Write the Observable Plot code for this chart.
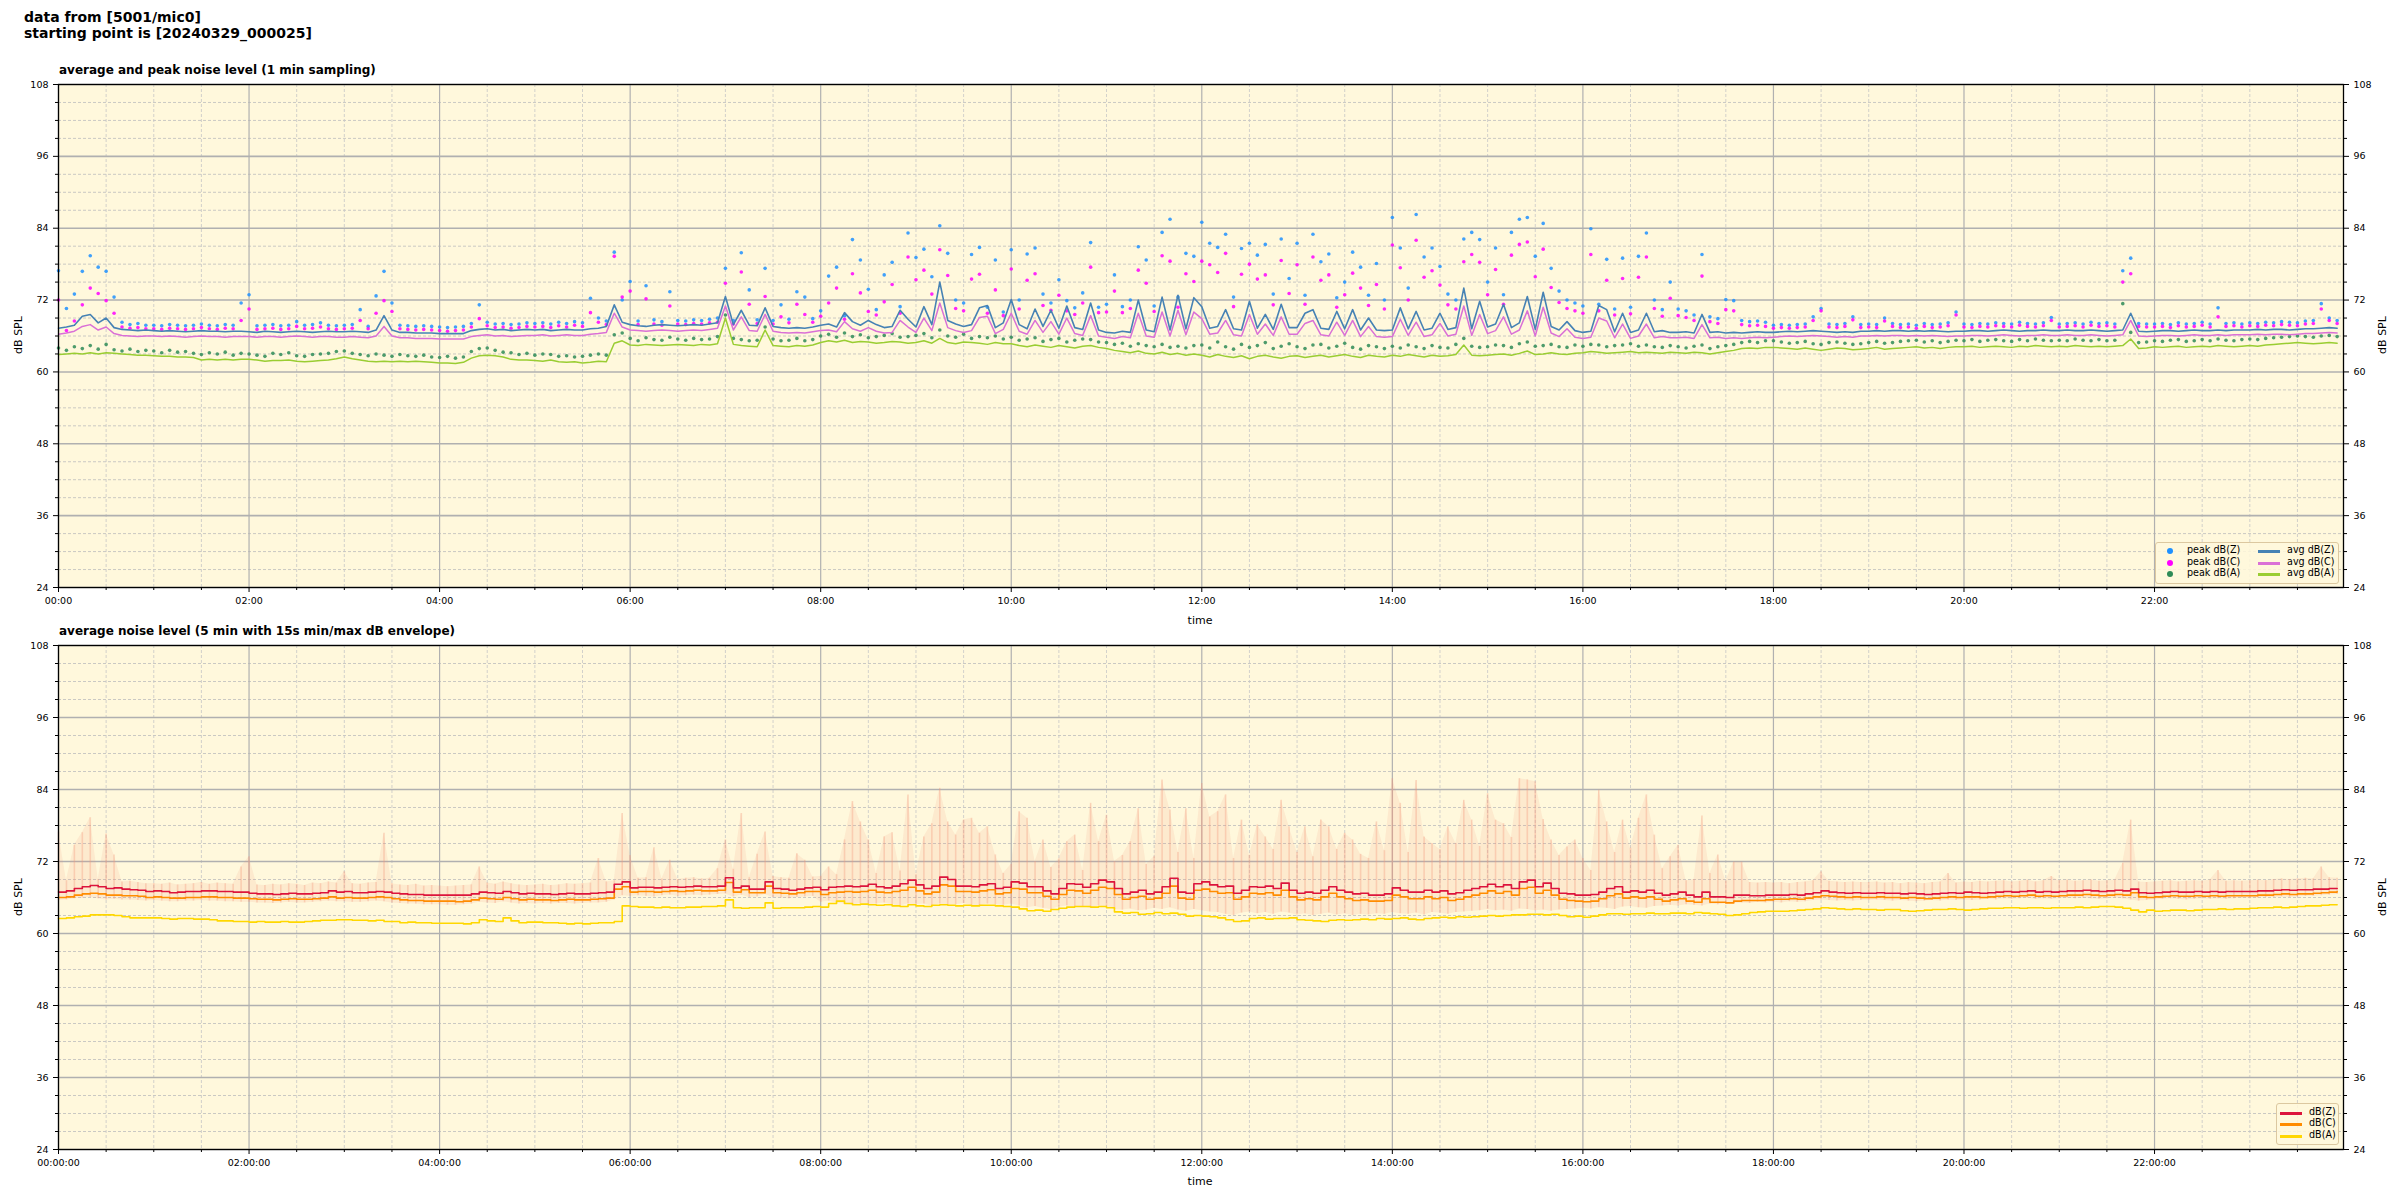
<!DOCTYPE html>
<html><head><meta charset="utf-8">
<script src="https://cdn.jsdelivr.net/npm/d3@7"></script>
<script src="https://cdn.jsdelivr.net/npm/@observablehq/plot@0.6"></script>
<style>
body{margin:0;background:#fff;font-family:"DejaVu Sans",sans-serif;color:#000;}
#root{position:relative;width:2400px;height:1200px;overflow:hidden;background:#fff;}
.abs{position:absolute;white-space:nowrap;}
.sup{left:24px;top:9px;font-size:14px;font-weight:bold;line-height:16px;}
.sub{font-size:12px;font-weight:bold;}
.ylab{font-size:11px;transform:translate(-50%,-50%) rotate(-90deg);}
.xlab{font-size:11px;transform:translate(-50%,-50%);}
.legend{position:absolute;box-sizing:border-box;border:1px solid #dcc8a0;background:rgba(255,248,220,0.85);border-radius:3px;font-size:9.6px;}
.legend span{position:absolute;line-height:12px;white-space:nowrap;}
.legend i{position:absolute;display:block;}
svg{position:absolute;}
</style></head>
<body><div id="root"></div>
<script>
// ---------- top chart: 1 min sampling (read at 5-min steps) ----------
const avgZ = [
67.3,67.5,67.8,69.3,69.6,68.2,69.0,67.4,67.1,67.0,66.9,67.0,
66.9,66.8,66.9,66.8,66.7,66.8,66.9,66.8,66.8,66.7,66.8,66.8,
66.7,66.6,66.8,66.7,66.6,66.7,66.8,66.7,66.6,66.7,66.8,66.7,
66.7,66.8,66.7,66.6,67.0,69.4,67.0,66.6,66.6,66.5,66.5,66.5,
66.4,66.4,66.4,66.4,66.9,67.1,67.2,67.0,67.1,66.9,67.0,67.1,
67.0,67.1,66.9,67.0,67.1,67.0,67.0,67.2,67.3,67.6,71.2,68.3,
67.9,67.7,67.6,67.8,67.9,67.8,67.7,67.8,67.9,67.8,68.0,68.2,
72.6,67.9,70.3,67.8,67.7,70.7,67.6,67.4,67.3,67.4,67.3,67.5,
67.8,68.0,67.5,69.9,68.4,67.8,68.6,67.9,67.4,67.6,70.3,68.8,
67.5,70.9,67.9,75.0,68.6,68.0,67.6,67.9,70.7,71.1,67.4,68.2,
72.1,67.9,67.2,70.5,67.6,70.3,67.3,71.0,67.4,67.1,71.5,67.0,
66.6,66.5,66.8,66.6,72.0,67.0,66.7,72.5,67.0,72.8,67.2,72.4,
70.9,67.3,67.6,70.4,67.2,67.0,71.8,67.3,69.6,67.1,71.3,67.4,
67.4,69.8,70.4,67.3,67.1,70.1,67.2,70.4,67.0,69.0,67.0,66.9,
67.0,70.7,67.2,70.1,67.0,67.3,69.8,67.1,67.4,74.0,67.2,71.8,
67.5,68.0,71.3,67.4,68.2,72.6,67.1,73.3,67.6,67.0,68.4,66.9,
66.6,66.8,71.1,70.4,66.7,69.8,66.6,67.0,69.8,66.7,66.9,66.6,
66.6,66.7,66.5,69.6,66.6,66.7,66.5,66.6,66.5,66.6,66.7,66.6,
66.6,66.7,66.8,66.7,66.8,66.9,66.8,66.7,66.6,66.7,66.6,66.8,
66.8,66.9,66.8,66.9,66.9,66.8,66.9,66.8,66.9,66.8,66.7,66.8,
66.8,66.9,66.9,66.8,66.9,67.0,66.9,66.8,66.9,66.9,67.0,66.9,
66.9,67.0,66.9,66.9,67.0,66.9,66.8,66.9,67.0,69.8,66.8,66.7,
66.8,66.9,66.9,66.8,66.9,67.0,66.9,66.9,67.0,66.9,67.0,67.0,
67.0,67.1,67.0,67.1,67.1,67.0,67.1,67.2,67.2,67.3,67.4,67.3];
const avgC = [
66.3,66.5,66.8,67.6,67.9,67.0,67.5,66.4,66.1,66.0,65.9,66.0,
66.0,65.9,66.0,65.9,65.8,65.9,66.0,65.9,65.9,65.8,65.9,65.9,
65.9,65.8,65.9,65.9,65.8,65.9,66.0,65.9,65.8,65.9,65.9,65.8,
65.8,65.9,65.8,65.7,66.0,67.6,66.0,65.7,65.7,65.6,65.6,65.6,
65.5,65.5,65.5,65.5,65.9,66.1,66.2,66.0,66.1,65.9,66.0,66.1,
66.1,66.2,66.0,66.1,66.2,66.1,66.1,66.3,66.4,66.6,69.8,67.5,
67.0,66.9,66.8,66.9,67.0,66.9,66.8,66.9,67.0,66.9,67.1,67.3,
71.0,67.0,69.2,66.9,66.8,69.6,66.8,66.6,66.5,66.6,66.5,66.7,
66.9,67.0,66.7,68.4,67.2,66.8,67.4,66.8,66.5,66.6,68.6,67.5,
66.6,69.0,66.9,71.5,67.4,66.9,66.6,66.9,69.1,69.3,66.4,67.1,
69.8,66.8,66.3,68.6,66.6,68.4,66.3,69.0,66.4,66.1,69.4,66.0,
65.8,65.6,65.9,65.7,69.8,66.0,65.8,70.0,66.0,70.3,66.2,70.0,
68.9,66.3,66.5,68.6,66.2,66.0,69.6,66.3,68.0,66.1,69.2,66.3,
66.3,68.1,68.6,66.2,66.0,68.3,66.1,68.6,65.9,67.6,65.9,65.8,
65.9,68.8,66.1,68.3,65.9,66.2,68.1,66.0,66.3,71.0,66.1,69.6,
66.4,66.9,69.2,66.3,67.0,70.2,66.0,70.8,66.5,65.9,67.2,65.8,
65.6,65.8,69.0,68.5,65.7,68.0,65.6,66.0,68.0,65.7,65.9,65.7,
65.7,65.8,65.6,67.9,65.7,65.8,65.6,65.7,65.6,65.7,65.8,65.7,
65.8,65.9,66.0,65.9,66.0,66.1,66.0,65.9,65.8,65.9,65.8,66.0,
66.0,66.1,66.0,66.1,66.1,66.0,66.1,66.0,66.1,66.0,65.9,66.0,
66.0,66.1,66.1,66.0,66.1,66.2,66.1,66.0,66.1,66.1,66.2,66.1,
66.1,66.2,66.1,66.1,66.2,66.1,66.0,66.1,66.2,68.6,66.0,65.9,
66.0,66.1,66.1,66.0,66.1,66.2,66.1,66.1,66.2,66.1,66.2,66.2,
66.2,66.3,66.2,66.3,66.3,66.2,66.3,66.4,66.4,66.5,66.6,66.5];
const avgA = [
62.9,63.0,63.1,63.0,63.2,63.0,63.2,63.1,63.0,62.9,62.8,62.8,
62.7,62.6,62.6,62.5,62.5,62.4,62.0,62.1,62.0,62.1,62.0,62.1,
62.1,62.0,61.8,61.9,61.9,62.0,61.8,61.7,61.8,61.9,62.0,62.2,
62.5,62.2,62.0,61.8,61.7,61.8,61.7,61.8,61.7,61.8,61.7,61.6,
61.5,61.5,61.4,61.6,62.3,62.7,62.8,62.7,62.5,62.1,62.0,62.0,
61.9,61.8,62.0,61.7,61.6,61.7,61.5,61.6,61.8,61.7,64.8,65.2,
64.5,64.4,64.6,64.5,64.4,64.5,64.6,64.5,64.4,64.6,64.5,64.7,
69.0,64.6,64.4,64.3,64.2,67.0,64.4,64.3,64.2,64.4,64.3,64.5,
64.9,65.2,65.0,65.3,64.9,65.1,65.0,64.8,64.9,65.1,65.0,64.8,
64.9,65.2,64.8,65.6,64.9,64.7,65.0,64.9,64.8,64.6,64.9,64.7,
64.7,64.4,64.2,64.5,64.3,64.1,64.4,64.2,64.0,64.3,64.4,64.1,
63.9,63.6,63.4,63.2,63.5,63.1,63.0,63.3,62.9,63.1,62.8,63.0,
62.8,62.5,62.9,62.6,62.4,62.7,62.2,62.6,62.8,62.5,62.3,62.6,
62.7,62.4,62.6,62.8,62.5,62.7,62.9,62.6,62.4,62.8,62.6,62.5,
62.8,62.6,62.9,62.7,62.5,62.8,62.6,62.7,62.9,64.5,62.8,62.7,
62.8,62.9,63.0,62.8,63.1,63.5,62.9,63.0,63.2,63.0,62.9,63.1,
63.2,63.4,63.3,63.1,63.2,63.3,63.4,63.2,63.3,63.2,63.1,63.3,
63.2,63.1,63.3,63.2,63.0,63.2,63.4,63.6,63.9,64.0,63.9,64.1,
64.1,64.0,63.9,63.8,64.0,63.8,63.6,63.8,64.0,63.9,63.7,63.8,
63.9,64.1,63.8,63.9,64.0,64.1,64.2,64.0,64.1,63.9,64.1,64.2,
64.2,64.3,64.1,64.2,64.3,64.2,64.1,64.3,64.2,64.4,64.3,64.2,
64.3,64.2,64.4,64.3,64.2,64.3,64.2,64.3,64.4,65.5,63.9,64.0,
64.2,64.1,64.2,64.3,64.1,64.2,64.3,64.2,64.4,64.3,64.2,64.3,
64.4,64.3,64.5,64.6,64.7,64.8,64.9,64.8,64.7,64.8,64.9,64.8];
const peakZ = [
76.9,70.6,73.0,76.8,79.4,77.5,76.8,72.5,68.3,67.9,68.1,67.8,
67.8,67.7,67.9,67.8,67.7,67.8,68.0,67.8,67.7,67.9,67.8,71.5,
72.9,67.7,67.8,67.9,67.7,67.8,68.4,67.8,67.9,68.2,67.8,67.7,
67.8,67.9,70.4,67.6,72.7,76.8,71.5,67.8,67.7,67.6,67.7,67.6,
67.5,67.4,67.5,67.6,68.1,71.2,68.3,68.0,68.1,67.9,68.0,68.2,
68.1,68.2,68.0,68.3,68.1,68.4,68.2,72.3,69.0,68.5,80.0,72.0,
75.1,68.5,74.4,68.7,68.4,73.4,68.6,68.5,68.7,68.6,68.8,69.0,
77.3,68.6,79.9,73.7,68.7,77.3,68.6,71.2,68.8,73.4,72.5,68.9,
70.2,76.0,77.5,69.4,82.1,78.7,73.8,70.4,76.2,78.3,70.9,83.2,
79.1,80.5,75.9,84.4,79.8,72.0,71.5,79.6,80.8,70.8,78.7,70.0,
80.4,72.0,79.7,80.7,73.0,71.5,75.4,71.9,70.7,73.2,81.6,70.8,
71.3,76.2,70.9,72.0,80.9,78.7,71.0,83.3,85.5,72.5,79.8,79.3,
85.0,81.5,80.8,83.0,72.5,80.6,81.5,79.5,81.3,73.0,82.2,75.6,
81.5,72.8,83.0,78.4,79.7,72.4,75.0,80.0,77.5,72.8,78.1,72.0,
85.8,80.7,74.0,86.3,79.2,80.7,77.6,73.0,72.0,82.2,83.3,82.1,
75.0,80.7,72.9,83.3,85.5,85.8,79.3,84.8,77.3,73.5,72.0,71.5,
71.0,83.9,71.3,78.8,70.5,79.0,70.8,79.3,83.2,72.0,70.4,75.0,
70.5,70.2,69.5,79.6,69.2,68.9,72.1,71.9,68.6,68.4,68.5,68.3,
67.8,67.9,67.8,67.9,68.0,69.2,70.6,68.0,67.9,68.1,69.2,67.9,
68.0,67.9,69.0,68.1,67.9,68.0,67.8,68.1,67.9,68.0,68.2,70.0,
68.0,67.9,68.1,68.0,68.2,68.1,68.0,68.3,68.1,68.0,68.2,69.1,
68.0,68.1,68.2,68.0,68.3,68.1,68.2,68.0,76.9,79.0,68.1,68.0,
68.0,68.1,67.9,68.2,68.0,68.1,68.3,68.0,70.7,68.1,68.2,68.0,
68.2,68.1,68.3,68.2,68.4,68.3,68.2,68.5,68.6,71.4,69.0,68.6];
const peakC = [
72.0,66.9,68.5,71.2,74.0,73.1,71.9,69.8,67.5,67.3,67.4,67.2,
67.2,67.1,67.3,67.2,67.1,67.2,67.4,67.2,67.1,67.3,67.2,68.6,
70.5,67.1,67.2,67.3,67.1,67.2,67.6,67.2,67.3,67.5,67.2,67.1,
67.2,67.3,68.6,67.2,69.8,71.9,70.1,67.2,67.1,67.0,67.1,67.0,
66.9,66.8,66.9,67.0,67.5,68.9,67.7,67.4,67.5,67.3,67.4,67.6,
67.5,67.6,67.4,67.7,67.5,67.8,67.6,69.9,68.3,67.9,79.3,72.5,
73.5,67.9,72.2,68.0,67.8,71.0,68.0,67.9,68.1,68.0,68.2,68.3,
74.8,68.0,76.7,71.3,68.1,72.6,68.0,69.2,68.2,71.3,69.6,68.3,
69.3,71.5,74.0,68.8,76.4,73.2,70.1,69.5,71.7,74.6,69.8,79.2,
75.4,77.0,73.0,80.4,76.1,70.6,70.2,75.5,76.3,69.8,73.7,69.4,
77.2,70.5,75.3,76.4,71.1,70.3,72.8,70.2,69.6,71.5,77.5,69.9,
70.0,73.5,69.9,70.6,77.0,74.8,70.1,79.4,78.5,70.8,76.4,75.1,
78.5,77.9,76.6,79.8,70.9,76.3,78.0,75.5,76.2,71.2,78.6,73.1,
77.9,71.3,79.2,75.3,76.2,70.8,72.9,76.5,74.0,71.1,74.6,70.5,
81.2,77.4,72.0,82.0,75.8,76.9,74.5,71.2,70.5,78.4,79.6,78.3,
72.9,77.1,71.3,79.5,81.3,81.7,75.9,80.5,74.1,71.6,70.6,70.2,
69.8,79.6,70.2,75.3,69.5,75.6,69.7,75.8,79.2,70.6,69.3,72.3,
69.4,69.1,68.6,76.0,68.4,68.1,70.4,70.2,67.9,67.7,67.8,67.6,
67.3,67.4,67.3,67.4,67.5,68.6,70.2,67.5,67.4,67.6,68.7,67.4,
67.5,67.4,68.5,67.6,67.4,67.5,67.3,67.6,67.4,67.5,67.7,69.5,
67.5,67.4,67.6,67.5,67.7,67.6,67.5,67.8,67.6,67.5,67.7,68.6,
67.5,67.6,67.7,67.5,67.8,67.6,67.7,67.5,75.0,76.4,67.6,67.5,
67.5,67.6,67.4,67.7,67.5,67.6,67.8,67.5,69.2,67.6,67.7,67.5,
67.7,67.6,67.8,67.7,67.9,67.8,67.7,68.0,68.1,70.5,68.6,68.1];
const peakA = [
64.0,63.6,64.2,63.9,64.4,63.8,64.6,63.7,63.5,63.8,63.4,63.6,
63.5,63.2,63.6,63.3,63.4,63.1,62.9,63.2,63.0,63.3,62.8,63.1,
63.0,62.8,62.6,63.1,62.9,63.2,62.7,62.6,62.9,63.0,63.1,63.4,
63.5,63.1,62.9,62.7,63.0,62.8,62.6,62.9,62.7,62.6,62.8,62.5,
62.4,62.6,62.3,62.5,63.4,63.9,64.0,63.6,63.3,63.2,62.9,63.1,
62.8,63.0,62.9,62.6,62.7,62.5,62.6,62.8,63.0,62.8,66.2,66.5,
65.6,65.2,65.7,65.4,65.3,65.8,65.5,65.3,65.6,65.4,65.5,65.9,
69.5,65.6,65.4,65.2,65.3,67.5,65.5,65.2,65.3,65.6,65.2,65.4,
66.0,66.3,65.8,66.5,65.9,66.2,65.7,65.9,66.1,66.4,65.8,65.9,
66.1,66.4,65.7,67.0,66.0,65.8,66.3,65.6,65.9,65.7,66.0,65.5,
65.8,65.3,65.5,65.7,65.1,65.4,65.6,65.0,65.3,65.5,65.4,65.0,
64.9,64.6,64.8,64.3,64.7,64.4,64.2,64.6,64.1,64.3,64.0,64.4,
64.5,64.0,65.0,64.2,63.8,64.6,64.1,64.4,64.9,63.9,64.3,64.7,
64.2,63.9,64.5,64.6,64.0,64.3,64.8,64.1,63.8,64.4,64.2,63.9,
64.3,64.0,64.5,64.2,63.9,64.4,64.1,64.0,64.6,65.6,64.3,64.1,
64.2,64.5,64.4,64.1,64.7,65.0,64.3,64.4,64.6,64.2,64.1,64.5,
64.3,64.6,64.5,64.2,64.4,64.5,64.7,64.3,64.5,64.2,64.1,64.4,
64.2,64.0,64.3,64.5,63.9,64.2,64.4,64.6,64.9,65.1,64.9,65.2,
65.2,65.0,64.8,64.9,65.1,64.7,64.6,64.9,65.0,64.8,64.6,64.7,
64.9,65.1,64.8,64.9,65.1,65.2,65.3,65.0,65.2,64.9,65.1,65.3,
65.2,65.4,65.1,65.3,65.4,65.2,65.1,65.4,65.2,65.5,65.3,65.2,
65.3,65.2,65.5,65.3,65.2,65.4,65.2,65.3,71.4,66.6,64.9,65.0,
65.2,65.1,65.3,65.4,65.1,65.2,65.4,65.2,65.5,65.3,65.2,65.4,
65.5,65.4,65.6,65.7,65.8,65.9,66.0,65.9,65.8,66.0,66.1,65.9];

// ---------- bottom chart: 5 min averages and 15 s min/max envelope ----------
const dbZ = [
66.9,67.1,67.5,67.8,68.0,67.8,67.5,67.6,67.4,67.3,67.2,67.0,
67.1,67.0,66.8,66.9,67.0,67.0,67.1,67.1,67.0,67.0,66.9,66.9,
66.7,66.6,66.6,66.5,66.6,66.7,66.6,66.6,66.7,66.8,67.1,66.9,
67.0,66.8,66.8,66.9,67.0,66.9,66.7,66.6,66.5,66.5,66.4,66.4,
66.4,66.4,66.4,66.4,66.6,66.9,66.8,66.7,67.0,66.8,66.6,66.7,
66.6,66.6,66.5,66.6,66.7,66.6,66.6,66.7,66.8,66.9,68.2,68.6,
67.6,67.7,67.7,67.6,67.7,67.8,67.7,67.8,67.9,67.8,67.8,67.9,
69.3,67.6,67.9,67.4,67.4,68.6,67.5,67.4,67.2,67.4,67.6,67.7,
67.3,67.7,67.8,67.9,67.8,67.9,68.2,67.8,67.6,67.9,68.3,68.9,
68.1,67.5,67.9,69.4,69.0,67.9,67.9,67.8,68.1,68.3,67.5,67.7,
68.6,68.4,67.8,67.8,67.1,66.6,67.5,68.3,68.2,67.7,68.3,68.9,
68.6,67.5,66.6,66.9,67.2,66.6,66.9,67.8,69.2,66.9,66.7,68.3,
68.6,68.1,67.8,67.9,66.7,67.2,67.8,67.7,67.9,67.5,68.4,67.2,
66.7,66.9,66.7,67.2,67.8,67.2,66.9,66.6,66.7,66.4,66.4,66.6,
67.6,67.2,66.9,66.9,67.2,66.9,67.1,66.6,66.8,67.2,67.5,67.8,
68.2,67.8,68.1,67.5,68.6,68.9,67.8,68.4,67.5,66.7,66.6,66.4,
66.4,66.5,66.9,67.5,67.8,66.9,67.1,66.9,67.2,66.7,66.4,66.6,
66.9,66.4,66.1,66.9,66.1,66.1,66.0,66.4,66.4,66.3,66.3,66.4,
66.4,66.4,66.5,66.4,66.6,66.8,67.1,66.9,66.8,66.7,66.8,66.7,
66.7,66.8,66.7,66.7,66.6,66.7,66.6,66.5,66.6,66.7,66.8,66.7,
66.9,66.8,66.7,66.8,66.9,67.0,66.9,67.0,67.1,66.9,67.0,66.9,
67.0,67.1,67.1,67.2,67.1,67.0,67.1,67.2,67.1,67.4,66.8,66.7,
66.8,66.9,67.0,66.9,66.9,67.0,66.9,67.0,66.9,67.0,67.0,67.0,
67.0,67.1,67.1,67.2,67.3,67.2,67.3,67.3,67.4,67.4,67.5,67.5];
const dbC = [
66.0,66.1,66.4,66.6,66.7,66.6,66.4,66.4,66.3,66.3,66.2,66.0,
66.1,66.0,65.9,65.9,66.0,66.0,66.1,66.1,66.0,66.0,65.9,65.9,
65.8,65.7,65.7,65.6,65.7,65.8,65.7,65.7,65.8,65.9,66.1,65.9,
66.0,65.9,65.9,66.0,66.1,66.0,65.8,65.6,65.5,65.5,65.4,65.4,
65.4,65.4,65.3,65.4,65.6,65.9,65.8,65.7,66.0,65.8,65.6,65.7,
65.6,65.6,65.5,65.6,65.7,65.6,65.6,65.7,65.8,65.9,67.4,67.8,
66.9,67.0,67.0,66.9,67.0,67.1,67.0,67.1,67.2,67.1,67.1,67.2,
68.5,66.9,67.3,66.8,66.8,67.9,66.8,66.7,66.6,66.8,67.0,67.0,
66.5,66.8,66.9,67.0,66.9,67.0,67.2,66.9,66.8,67.0,67.2,67.7,
67.1,66.6,66.9,68.1,67.9,67.0,67.0,66.9,67.1,67.3,66.6,66.8,
67.5,67.4,66.8,66.8,66.2,65.7,66.5,67.2,67.1,66.7,67.2,67.7,
67.5,66.5,65.7,66.0,66.2,65.7,65.9,66.7,67.9,65.9,65.7,67.2,
67.4,67.0,66.7,66.8,65.7,66.1,66.7,66.6,66.8,66.4,67.2,66.1,
65.6,65.8,65.6,66.1,66.7,66.1,65.8,65.5,65.6,65.4,65.4,65.5,
66.4,66.1,65.8,65.8,66.1,65.8,66.0,65.5,65.7,66.1,66.4,66.7,
67.1,66.7,67.0,66.4,67.5,67.7,66.7,67.2,66.4,65.7,65.5,65.4,
65.3,65.4,65.8,66.3,66.6,65.9,66.1,65.9,66.1,65.7,65.4,65.6,
65.8,65.4,65.2,65.8,65.2,65.2,65.1,65.4,65.5,65.5,65.5,65.6,
65.7,65.7,65.8,65.7,65.9,66.1,66.3,66.2,66.1,66.0,66.1,66.0,
66.0,66.1,66.0,66.0,65.9,66.0,65.9,65.8,65.9,66.0,66.1,66.0,
66.1,66.1,66.0,66.1,66.2,66.3,66.2,66.3,66.4,66.2,66.3,66.2,
66.3,66.4,66.4,66.5,66.4,66.3,66.4,66.5,66.4,66.8,66.1,66.0,
66.1,66.2,66.3,66.2,66.2,66.3,66.2,66.3,66.2,66.3,66.3,66.3,
66.3,66.4,66.4,66.5,66.6,66.5,66.6,66.6,66.7,66.8,66.9,67.0];
const dbA = [
62.5,62.6,62.8,62.9,63.1,63.1,63.1,63.0,62.8,62.6,62.6,62.6,
62.6,62.5,62.4,62.5,62.5,62.4,62.4,62.3,62.1,62.1,62.0,62.0,
61.9,62.0,61.9,61.9,62.0,61.9,61.9,62.0,62.1,62.2,62.2,62.3,
62.3,62.2,62.2,62.1,62.2,62.0,62.0,61.8,61.9,61.8,61.8,61.7,
61.7,61.7,61.7,61.6,61.8,62.3,62.1,62.0,62.6,62.1,61.8,61.9,
61.9,61.8,61.8,61.7,61.6,61.7,61.6,61.7,61.8,61.8,62.0,64.6,
64.5,64.4,64.4,64.3,64.4,64.3,64.3,64.4,64.4,64.5,64.5,64.6,
65.6,64.3,64.2,64.3,64.3,65.1,64.2,64.3,64.3,64.3,64.4,64.5,
64.4,65.0,65.4,65.0,64.8,64.9,64.8,64.7,64.8,64.6,64.5,64.8,
64.6,64.5,64.7,64.8,64.7,64.6,64.7,64.6,64.7,64.7,64.6,64.5,
64.4,64.1,63.8,63.9,63.7,64.0,64.2,64.4,64.5,64.5,64.4,64.5,
64.3,63.6,63.4,63.5,63.2,63.3,63.5,63.3,63.4,63.2,62.9,63.0,
62.9,62.8,62.6,62.3,62.0,62.1,62.5,62.6,62.4,62.5,62.5,62.6,
62.3,62.2,62.1,62.0,62.2,62.3,62.2,62.3,62.4,62.3,62.5,62.4,
62.5,62.6,62.4,62.3,62.5,62.6,62.7,62.6,62.8,62.7,62.8,62.9,
63.0,62.9,63.0,63.1,63.1,63.2,63.2,63.1,63.2,63.0,62.8,62.9,
62.7,62.9,63.1,63.3,63.3,63.2,63.3,63.3,63.4,63.3,63.3,63.4,
63.4,63.3,63.5,63.4,63.3,63.2,63.0,63.1,63.3,63.5,63.6,63.7,
63.7,63.7,63.8,63.9,64.0,64.1,64.3,64.2,64.1,64.0,64.1,64.0,
64.0,63.9,64.0,64.0,63.8,63.7,63.8,63.9,64.0,64.0,64.1,64.0,
63.9,64.0,64.1,64.2,64.2,64.3,64.3,64.2,64.3,64.3,64.2,64.3,
64.3,64.3,64.4,64.3,64.4,64.5,64.5,64.4,64.2,63.9,63.6,63.9,
63.7,63.8,63.9,63.9,63.8,63.9,64.0,64.0,64.1,64.0,64.1,64.1,
64.2,64.3,64.3,64.4,64.3,64.4,64.5,64.6,64.6,64.7,64.8,64.8];
const envMax = [
76.9,68.8,74.7,76.8,79.3,69.0,76.6,73.1,68.6,68.7,68.5,68.3,
68.3,68.2,68.4,68.1,68.2,68.3,68.5,68.2,68.4,68.3,68.2,71.1,
72.8,68.1,68.0,68.2,68.1,68.3,68.2,68.0,68.4,68.3,68.6,68.4,
70.3,68.3,68.2,68.4,68.5,76.7,68.3,68.1,68.0,68.2,67.9,68.0,
67.9,67.8,67.9,68.0,68.1,71.1,68.4,68.2,68.6,68.3,68.1,68.0,
68.1,68.2,68.0,68.1,68.3,68.2,68.3,68.4,72.5,68.6,68.8,80.0,
73.0,69.2,69.3,74.3,69.1,72.2,69.0,69.2,69.3,69.1,69.2,70.8,
75.6,70.7,80.0,69.3,73.2,76.9,69.5,69.3,69.2,73.3,72.2,69.4,
69.5,71.1,69.8,75.6,82.0,78.6,75.6,70.0,76.1,76.8,70.4,83.1,
69.8,76.1,78.3,84.2,78.6,76.4,78.9,79.2,76.7,77.8,73.1,70.0,
71.5,80.3,79.2,72.0,75.6,71.0,72.4,75.3,76.4,70.5,81.7,75.3,
79.7,72.0,73.0,75.3,80.8,71.5,72.8,85.6,80.6,73.5,80.8,72.5,
85.0,79.4,80.3,83.1,72.5,78.9,73.0,78.1,76.1,74.0,82.2,77.8,
73.5,77.8,72.8,78.9,77.8,74.0,76.7,75.6,73.2,72.5,78.6,73.8,
85.8,81.7,73.5,85.5,76.1,75.0,74.0,77.8,75.0,82.2,78.9,74.5,
83.3,78.9,78.3,76.0,85.8,85.6,85.3,79.0,75.6,73.0,74.4,75.6,
72.5,70.5,83.9,78.6,73.5,78.9,74.2,79.2,83.1,76.4,70.8,72.8,
74.7,68.8,69.0,79.6,70.0,73.1,68.7,71.9,71.9,68.5,68.4,68.5,
68.4,68.5,68.3,68.5,68.6,68.8,70.3,68.7,68.6,68.5,68.6,68.5,
68.5,68.6,68.4,68.5,68.3,68.5,68.4,68.3,68.5,68.6,70.0,68.4,
68.6,68.5,68.7,68.6,68.7,68.8,68.6,68.7,68.9,68.6,68.8,69.5,
68.8,68.9,68.7,68.8,68.9,68.7,68.8,68.9,71.7,78.9,68.6,68.5,
68.6,68.7,68.8,68.6,68.7,68.8,68.7,68.9,70.5,68.7,68.8,68.7,
68.8,68.9,68.8,69.0,69.1,69.0,69.1,69.2,69.1,71.1,69.3,69.2];
const envMin = [
65.5,65.6,65.8,65.9,66.0,65.8,65.6,65.7,65.6,65.6,65.5,65.4,
65.5,65.4,65.3,65.3,65.4,65.4,65.5,65.4,65.4,65.3,65.3,65.2,
65.2,65.1,65.1,65.0,65.1,65.2,65.1,65.1,65.2,65.3,65.4,65.3,
65.3,65.2,65.2,65.3,65.4,65.3,65.1,65.0,64.9,64.9,64.8,64.8,
64.8,64.7,64.7,64.8,64.9,65.2,65.1,65.0,65.3,65.1,64.9,65.0,
64.9,65.0,64.9,65.0,65.0,64.9,65.0,65.1,65.1,65.2,65.6,66.3,
66.2,66.3,66.2,66.1,66.3,66.4,66.2,66.3,66.4,66.3,66.4,66.5,
66.6,66.1,66.4,66.0,66.1,66.5,66.0,65.9,65.8,66.0,66.1,66.2,
65.2,65.4,65.1,64.9,64.7,65.0,64.8,64.9,65.1,64.8,64.6,64.9,
64.8,64.9,64.6,64.9,64.7,64.8,65.0,64.7,64.6,64.9,64.8,64.7,
64.9,64.6,64.3,64.5,64.2,64.0,64.4,64.6,64.3,64.5,64.2,64.6,
64.5,64.0,63.9,64.1,63.8,63.9,64.2,64.0,64.3,63.9,63.7,64.0,
63.8,63.6,63.5,63.2,63.0,63.4,63.6,63.3,63.5,63.2,63.6,63.4,
63.1,63.3,63.0,63.2,63.4,63.1,63.3,63.0,63.2,63.1,63.3,63.2,
63.5,63.3,63.2,63.4,63.1,63.5,63.4,63.2,63.5,63.6,63.7,63.8,
64.0,63.8,63.9,63.7,64.1,64.0,63.8,63.9,63.7,63.9,64.0,64.1,
64.2,64.1,64.3,64.2,64.0,64.4,64.5,64.3,64.2,64.5,64.6,64.7,
64.6,64.8,64.7,64.6,64.9,64.8,64.9,65.0,65.1,65.0,65.2,65.1,
65.2,65.1,65.3,65.2,65.3,65.5,65.6,65.5,65.4,65.5,65.4,65.5,
65.5,65.6,65.5,65.4,65.5,65.4,65.3,65.4,65.5,65.4,65.6,65.5,
65.6,65.5,65.6,65.7,65.6,65.8,65.7,65.8,65.9,65.7,65.8,65.7,
65.8,65.9,65.8,65.9,65.8,65.7,65.8,65.9,65.8,65.6,65.4,65.5,
65.6,65.7,65.8,65.7,65.6,65.7,65.8,65.7,65.8,65.7,65.8,65.9,
65.8,65.9,66.0,66.0,66.1,66.0,66.1,66.2,66.2,66.3,66.4,66.5];

// ---------- axes ----------
const yMajor = [24, 36, 48, 60, 72, 84, 96, 108];
const yMinor = [27,30,33,39,42,45,51,54,57,63,66,69,75,78,81,87,90,93,99,102,105];
const xMajor = [0,120,240,360,480,600,720,840,960,1080,1200,1320];
const xMinor = [30,60,90,150,180,210,270,300,330,390,420,450,510,540,570,630,660,690,750,780,810,870,900,930,990,1020,1050,1110,1140,1170,1230,1260,1290,1350,1380,1410];
const xLabelsTop = ["00:00","02:00","04:00","06:00","08:00","10:00","12:00","14:00","16:00","18:00","20:00","22:00"];
const xLabelsBottom = ["00:00:00","02:00:00","04:00:00","06:00:00","08:00:00","10:00:00","12:00:00","14:00:00","16:00:00","18:00:00","20:00:00","22:00:00"];

const STEP = 5; // minutes between stored readings
const topRows = avgZ.map((v, i) => ({t: i*STEP, az: v, ac: avgC[i], aa: avgA[i], pz: peakZ[i], pc: peakC[i], pa: peakA[i]}));
const botRows = dbZ.map((v, i) => ({t: i*STEP, z: v, c: dbC[i], a: dbA[i], hi: envMax[i], lo: envMin[i]}));

function background(){
  return [
    Plot.frame({fill: "#fff8dc", stroke: null}),
    Plot.gridY(yMinor, {stroke: "#bdbdbd", strokeOpacity: 1, strokeWidth: 0.8, strokeDasharray: "3,2"}),
    Plot.gridX(xMinor, {stroke: "#c6c6c6", strokeOpacity: 1, strokeWidth: 0.8, strokeDasharray: "3,2"}),
    Plot.gridY(yMajor, {stroke: "#b0b0b0", strokeOpacity: 1, strokeWidth: 1.6}),
    Plot.gridX(xMajor, {stroke: "#b0b0b0", strokeOpacity: 1, strokeWidth: 1.2})
  ];
}
function axes(labels){
  const lab = new Map(xMajor.map((m, i) => [m, labels[i]]));
  return [
    Plot.axisY(yMajor, {anchor: "left", tickSize: 5, tickPadding: 5, label: null}),
    Plot.axisY(yMinor, {anchor: "left", tickSize: 3, tickFormat: () => "", label: null}),
    Plot.axisY(yMajor, {anchor: "right", tickSize: 5, tickPadding: 5, label: null}),
    Plot.axisY(yMinor, {anchor: "right", tickSize: 3, tickFormat: () => "", label: null}),
    Plot.axisX(xMajor, {anchor: "bottom", tickSize: 5, tickPadding: 5, tickFormat: d => lab.get(d), label: null}),
    Plot.axisX(xMinor, {anchor: "bottom", tickSize: 3, tickFormat: () => "", label: null}),
    Plot.frame({stroke: "#000", strokeWidth: 1.3})
  ];
}
const common = {
  width: 2400, marginLeft: 58, marginRight: 57,
  x: {domain: [0, 1439]}, y: {domain: [24, 108]},
  style: {fontFamily: "DejaVu Sans, sans-serif", fontSize: "9.5px", color: "#000", background: "transparent", overflow: "visible"}
};

const topPlot = Plot.plot({
  ...common, height: 556, marginTop: 8, marginBottom: 45,
  marks: [
    ...background(),
    Plot.dot(topRows, {x: "t", y: "pz", r: 1.8, fill: "#1e90ff", fillOpacity: 0.85}),
    Plot.dot(topRows, {x: "t", y: "pc", r: 1.8, fill: "#ff00ff", fillOpacity: 0.85}),
    Plot.dot(topRows, {x: "t", y: "pa", r: 1.8, fill: "#2e8b57", fillOpacity: 0.85}),
    Plot.line(topRows, {x: "t", y: "aa", stroke: "#9acd32", strokeWidth: 1.5}),
    Plot.line(topRows, {x: "t", y: "ac", stroke: "#da70d6", strokeWidth: 1.5}),
    Plot.line(topRows, {x: "t", y: "az", stroke: "#4682b4", strokeWidth: 1.6}),
    ...axes(xLabelsTop)
  ]
});
topPlot.style.left = "0px"; topPlot.style.top = "76px";

const botPlot = Plot.plot({
  ...common, height: 563, marginTop: 8, marginBottom: 51,
  marks: [
    ...background(),
    Plot.areaY(botRows, {x: "t", y1: "lo", y2: "hi", fill: "#f4977a", fillOpacity: 0.14}),
    Plot.ruleX(botRows, {x: "t", y1: "lo", y2: "hi", stroke: "#f4977a", strokeOpacity: 0.35, strokeWidth: 1.6}),
    Plot.line(botRows, {x: "t", y: "a", stroke: "#ffd700", strokeWidth: 1.6, curve: "step-after"}),
    Plot.line(botRows, {x: "t", y: "c", stroke: "#ff8c00", strokeWidth: 1.6, curve: "step-after"}),
    Plot.line(botRows, {x: "t", y: "z", stroke: "#dc143c", strokeWidth: 1.6, curve: "step-after"}),
    ...axes(xLabelsBottom)
  ]
});
botPlot.style.left = "0px"; botPlot.style.top = "637px";

const root = document.getElementById("root");
root.appendChild(topPlot);
root.appendChild(botPlot);

function addText(cls, txt, x, y){
  const d = document.createElement("div");
  d.className = "abs " + cls;
  d.textContent = txt;
  d.style.left = x + "px"; d.style.top = y + "px";
  root.appendChild(d);
  return d;
}
const sup = document.createElement("div");
sup.className = "abs sup";
sup.innerHTML = "data from [5001/mic0]<br>starting point is [20240329_000025]";
root.appendChild(sup);
addText("sub", "average and peak noise level (1 min sampling)", 59, 63);
addText("sub", "average noise level (5 min with 15s min/max dB envelope)", 59, 624);
addText("ylab", "dB SPL", 18, 335);
addText("ylab", "dB SPL", 2382, 335);
addText("ylab", "dB SPL", 18, 897);
addText("ylab", "dB SPL", 2382, 897);
addText("xlab", "time", 1200, 620);
addText("xlab", "time", 1200, 1181);

// legends
const topLegend = [
  {k: "dot", color: "#1e90ff", label: "peak dB(Z)", col: 0, row: 0},
  {k: "dot", color: "#ff00ff", label: "peak dB(C)", col: 0, row: 1},
  {k: "dot", color: "#2e8b57", label: "peak dB(A)", col: 0, row: 2},
  {k: "line", color: "#4682b4", label: "avg dB(Z)", col: 1, row: 0},
  {k: "line", color: "#da70d6", label: "avg dB(C)", col: 1, row: 1},
  {k: "line", color: "#9acd32", label: "avg dB(A)", col: 1, row: 2}
];
const botLegend = [
  {k: "line", color: "#dc143c", label: "dB(Z)", col: 0, row: 0},
  {k: "line", color: "#ff8c00", label: "dB(C)", col: 0, row: 1},
  {k: "line", color: "#ffd700", label: "dB(A)", col: 0, row: 2}
];
function legend(items, left, top, w, h, colX, rowY){
  const box = document.createElement("div");
  box.className = "legend";
  Object.assign(box.style, {left: left+"px", top: top+"px", width: w+"px", height: h+"px"});
  items.forEach(it => {
    const c = colX[it.col], y = rowY[it.row];
    const sw = document.createElement("i");
    if (it.k === "dot") {
      Object.assign(sw.style, {left: (c.sw + 8) + "px", top: (y - 3) + "px", width: "6px", height: "6px", borderRadius: "50%", background: it.color});
    } else {
      Object.assign(sw.style, {left: c.sw + "px", top: (y - 1.5) + "px", width: "22px", height: "3px", background: it.color});
    }
    box.appendChild(sw);
    const s = document.createElement("span");
    s.textContent = it.label;
    s.style.left = c.tx + "px"; s.style.top = (y - 7) + "px";
    box.appendChild(s);
  });
  root.appendChild(box);
}
legend(topLegend, 2155, 542, 184, 42, [{sw: 3, tx: 31}, {sw: 102, tx: 131}], [8, 20, 31]);
legend(botLegend, 2276, 1103, 63, 42, [{sw: 3, tx: 32}], [9, 20, 32]);
</script>
</body></html>
